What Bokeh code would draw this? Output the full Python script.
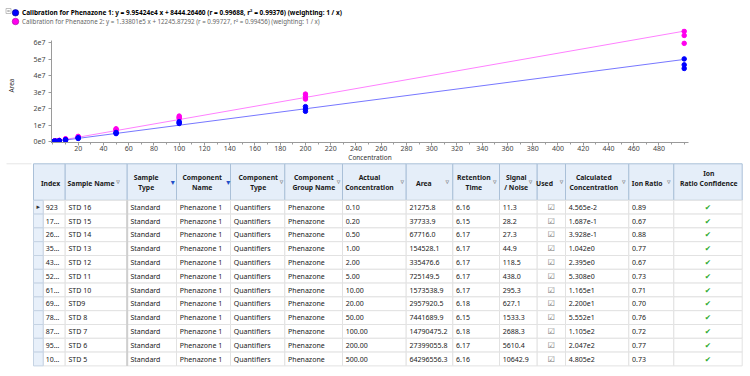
import math
from bokeh.plotting import figure
from bokeh.models import Range1d, FixedTicker, CustomJSTickFormatter, ColumnDataSource
from bokeh.embed import file_html
from bokeh.resources import INLINE
from bokeh.core.properties import value

FONT = "Noto Sans"
SYM = "DejaVu Sans"

# ---------------- calibration data ----------------
concentration = [0.1, 0.2, 0.5, 1, 2, 5, 10, 20, 50, 100, 200, 500]
# Phenazone 1 (blue), three replicates
p1_rep_a = [16000, 28000, 52000, 115000, 250000, 560000, 1200000, 2400000, 5600000, 12100000, 21200000, 50100000]
p1_rep_b = [14000, 25000, 48000, 105000, 230000, 520000, 1080000, 2150000, 5200000, 11500000, 19600000, 46500000]
p1_rep_c = [12000, 22000, 44000, 95000, 210000, 480000, 980000, 1950000, 4900000, 11000000, 18400000, 44300000]
# Phenazone 2 (magenta), three replicates
p2_rep_a = [24000, 40000, 72000, 160000, 350000, 770000, 1700000, 3200000, 7800000, 15500000, 28800000, 66800000]
p2_rep_b = [21275.8, 37733.9, 67716.0, 154528.1, 335476.6, 725149.5, 1573538.9, 2957920.5, 7441689.9, 14790475.2, 27399055.8, 64296556.3]
p2_rep_c = [19000, 34000, 63000, 145000, 320000, 690000, 1450000, 2750000, 6900000, 14100000, 25800000, 59500000]

fit1_slope, fit1_intercept = 9.95424e4, 8444.26460
fit2_slope, fit2_intercept = 1.33801e5, 12245.87292
fit_x = [0, 500]

legend_texts = [
    "Calibration for Phenazone 1: y = 9.95424e4 x + 8444.26460 (r = 0.99688, r\u00b2 = 0.99376)  (weighting: 1 / x)",
    "Calibration for Phenazone 2: y = 1.33801e5 x + 12245.87292 (r = 0.99727, r\u00b2 = 0.99456)  (weighting: 1 / x)",
]
series_colors = ["#0000ff", "#ff00ee"]
x_axis_title = "Concentration"
y_axis_title = "Area"

x_tick_values = list(range(20, 500, 20))
x_minor_values = list(range(0, 510, 10))
y_tick_values = [0, 1e7, 2e7, 3e7, 4e7, 5e7, 6e7]

# ---------------- table data ----------------
col_headers = ["Index", "Sample Name", "Sample\nType", "Component\nName", "Component\nType",
               "Component\nGroup Name", "Actual\nConcentration", "Area", "Retention\nTime",
               "Signal\n/ Noise", "Used", "Calculated\nConcentration", "Ion Ratio", "Ion\nRatio Confidence"]
col_filter = ["", "open", "filled", "filled", "open", "open", "open", "open", "open", "open", "open", "open", "open", ""]
t_index = ["923", "17\u2026", "26\u2026", "35\u2026", "43\u2026", "52\u2026", "61\u2026", "69\u2026", "78\u2026", "87\u2026", "95\u2026", "10\u2026"]
t_sample = ["STD 16", "STD 15", "STD 14", "STD 13", "STD 12", "STD 11", "STD 10", "STD9", "STD 8", "STD 7", "STD  6", "STD 5"]
t_type = ["Standard"] * 12
t_comp = ["Phenazone 1"] * 12
t_ctype = ["Quantifiers"] * 12
t_group = ["Phenazone"] * 12
t_actual = ["0.10", "0.20", "0.50", "1.00", "2.00", "5.00", "10.00", "20.00", "50.00", "100.00", "200.00", "500.00"]
t_area = ["21275.8", "37733.9", "67716.0", "154528.1", "335476.6", "725149.5", "1573538.9", "2957920.5",
          "7441689.9", "14790475.2", "27399055.8", "64296556.3"]
t_rt = ["6.16", "6.15", "6.17", "6.17", "6.17", "6.17", "6.17", "6.18", "6.15", "6.18", "6.17", "6.16"]
t_sn = ["11.3", "28.2", "27.3", "44.9", "118.5", "438.0", "295.3", "627.1", "1533.3", "2688.3", "5610.4", "10642.9"]
t_used = [True] * 12
t_calc = ["4.565e-2", "1.687e-1", "3.928e-1", "1.042e0", "2.395e0", "5.308e0", "1.165e1", "2.200e1",
          "5.552e1", "1.105e2", "2.047e2", "4.805e2"]
t_ion = ["0.89", "0.67", "0.88", "0.77", "0.67", "0.73", "0.71", "0.70", "0.76", "0.72", "0.77", "0.73"]
t_conf = [True] * 12

W = 750

# ---------------- legend strip (page y 0..27) ----------------
LH = 27
lg = figure(width=W, height=LH, output_backend="svg", toolbar_location=None, title=None,
            x_range=Range1d(0, W), y_range=Range1d(LH, 0), min_border=0,
            x_axis_location=None, y_axis_location=None)
lg.grid.visible = False
lg.outline_line_color = None
leg_y = [12.3, 21.0]
lg.scatter([15, 15], leg_y, marker="circle", size=6.5, fill_color=series_colors,
           line_color=["#000080", "#a000a0"], line_width=0.6)
lg.text([21.5], [leg_y[0]], text=[legend_texts[0]], text_font=value(FONT), text_font_size="6.5px",
        text_font_style="bold", text_color="#000000", text_baseline="middle")
lg.text([21.5], [leg_y[1]], text=[legend_texts[1]], text_font=value(FONT), text_font_size="6.2px",
        text_color="#666666", text_baseline="middle")
# collapse box
lg.quad(left=[5.5], right=[10.5], top=[8], bottom=[13], fill_color="white", line_color="#b0b0b0", line_width=0.8)
lg.segment(x0=[6.8], y0=[10.5], x1=[9.2], y1=[10.5], line_color="#555555", line_width=0.8)

# ---------------- chart (page y 27..154) ----------------
CTOP, CBOT = 27, 154
FL, FR, FT, FB = 51, 688, 28, 142          # frame edges in page pixels
X0, X1 = -1.15, 503.4
Y0, Y1 = -0.05e7, 6.85e7

p = figure(width=W, height=CBOT - CTOP, output_backend="svg", toolbar_location=None, title=None,
           x_range=Range1d(X0, X1), y_range=Range1d(Y0, Y1),
           min_border_left=FL, min_border_right=W - FR, min_border_top=FT - CTOP, min_border_bottom=CBOT - FB)
p.xgrid.visible = False
p.ygrid.visible = False
p.outline_line_color = None

for ax in (p.xaxis[0], p.yaxis[0]):
    ax.axis_line_color = "#9a9a9a"
    ax.major_tick_line_color = "#9a9a9a"
    ax.minor_tick_line_color = "#9a9a9a"
    ax.major_tick_in = 0
    ax.major_tick_out = 3
    ax.minor_tick_in = 0
    ax.minor_tick_out = 2
    ax.major_label_text_font = FONT
    ax.major_label_text_font_size = "7px"
    ax.major_label_text_color = "#444444"

p.xaxis.ticker = FixedTicker(ticks=x_tick_values, minor_ticks=x_minor_values)
p.xaxis.major_label_standoff = 0
p.yaxis.ticker = FixedTicker(ticks=y_tick_values, minor_ticks=[])
p.yaxis.formatter = CustomJSTickFormatter(code="return tick == 0 ? '0e0' : (tick/1e7).toFixed(0) + 'e7';")
p.yaxis.major_label_standoff = 3
p.yaxis.bounds = (Y0, 6.12e7)
p.yaxis.axis_label = y_axis_title
p.yaxis.axis_label_text_font = FONT
p.yaxis.axis_label_text_font_size = "6.5px"
p.yaxis.axis_label_text_font_style = "normal"
p.yaxis.axis_label_text_color = "#333333"
p.yaxis.axis_label_standoff = 15

fit1_y = [fit1_slope * v + fit1_intercept for v in fit_x]
fit2_y = [fit2_slope * v + fit2_intercept for v in fit_x]
p.line(fit_x, fit2_y, line_color="#ff80ff", line_width=1)
p.line(fit_x, fit1_y, line_color="#7777ff", line_width=1)

p.scatter(concentration * 3, p2_rep_a + p2_rep_b + p2_rep_c, marker="circle", size=4.5,
          fill_color=series_colors[1], line_color=series_colors[1])
p.scatter(concentration * 3, p1_rep_a + p1_rep_b + p1_rep_c, marker="circle", size=4.5,
          fill_color=series_colors[0], line_color=series_colors[0])

# ---------------- table (page y 154..376) ----------------
TTOP = CBOT
TH = 376 - TTOP
t = figure(width=W, height=TH, output_backend="svg", toolbar_location=None, title=None,
           x_range=Range1d(0, W), y_range=Range1d(TH, 0), min_border=0,
           x_axis_location=None, y_axis_location=None)
t.grid.visible = False
t.outline_line_color = None

# x-axis title of the chart sits just above the table
t.text([(FL + FR) / 2], [157 - TTOP], text=[x_axis_title], text_font=value(FONT), text_font_size="6.5px",
       text_color="#333333", text_align="center", text_baseline="middle")

col_widths = [31.7, 62, 49.3, 54, 54.3, 57.7, 63.7, 46.6, 46.7, 37.7, 28.3, 63.3, 45, 68.4]
edges = [33.0]
for w in col_widths:
    edges.append(edges[-1] + w)
SEL_W = 9.7
HEAD_TOP, HEAD_BOT, ROW_H = 163.3 - TTOP, 199.8 - TTOP, 13.8
n_rows = len(t_sample)
n_cols = len(col_headers)

# splitter line left of the table
t.segment(x0=[6], y0=[HEAD_TOP], x1=[31], y1=[HEAD_TOP], line_color="#e6e6e6", line_width=1)

# header cells
t.quad(left=edges[:-1], right=edges[1:], top=[HEAD_TOP] * n_cols, bottom=[HEAD_BOT] * n_cols,
       fill_color="#e5eef9", line_color="#aac0d8", line_width=1)

# body cells
L, R, T, B = [], [], [], []
for i in range(n_rows):
    top = HEAD_BOT + i * ROW_H
    for c in range(n_cols):
        left = edges[c] + (SEL_W if c == 0 else 0)
        L.append(left); R.append(edges[c + 1]); T.append(top); B.append(top + ROW_H)
t.quad(left=L, right=R, top=T, bottom=B, fill_color="white", line_color="#e2e2e2", line_width=1)
# row selector cells
sel_top = [HEAD_BOT + i * ROW_H for i in range(n_rows)]
t.quad(left=[edges[0]] * n_rows, right=[edges[0] + SEL_W] * n_rows, top=sel_top,
       bottom=[v + ROW_H for v in sel_top], fill_color="#e8f0fa", line_color="#c5d3e3", line_width=1)
# heavier separator after Sample Name
t.segment(x0=[edges[2]], y0=[HEAD_BOT], x1=[edges[2]], y1=[HEAD_BOT + n_rows * ROW_H],
          line_color="#cfcfcf", line_width=2)

# header texts
header_cx = [50, 90.5, 145.7, 201.7, 257.7, 313.3, 369, 423.3, 473.3, 515.7, 544, 593.3, 646.7, 708.3]
hx, hy, ht = [], [], []
for c, h in enumerate(col_headers):
    lines = h.split("\n")
    if len(lines) == 1:
        ys = [182.7]
    elif c == n_cols - 1:
        ys = [173.3, 182.7]
    else:
        ys = [176.7, 187.0]
    for ln, yy in zip(lines, ys):
        hx.append(header_cx[c]); hy.append(yy - TTOP); ht.append(ln)
t.text(x="x", y="y", text="text", source=ColumnDataSource(dict(x=hx, y=hy, text=ht)),
       text_font=value(FONT), text_font_size="6.8px", text_font_style="bold", text_color="#1a1a1a",
       text_align="center", text_baseline="middle")

# filter icons
icon_px = [None, 117.5, 172.3, 227.7, 281, 338, 401.7, 446.7, 494.3, 530, 561, 623.3, 668.3, None]
ox, fx = [], []
for c, kind in enumerate(col_filter):
    if kind == "open":
        ox.append(icon_px[c])
    elif kind == "filled":
        fx.append(icon_px[c])
ICON_Y = 181.5 - TTOP
t.text(x=ox, y=[ICON_Y] * len(ox), text=["\u25bf"] * len(ox), text_font=value(SYM), text_font_size="7px",
       text_color="#555555", text_align="center", text_baseline="middle")
t.text(x=fx, y=[ICON_Y] * len(fx), text=["\u25be"] * len(fx), text_font=value(SYM), text_font_size="8px",
       text_color="#1f4fc8", text_align="center", text_baseline="middle")

# body texts
row_y = [HEAD_BOT + ROW_H / 2 + i * ROW_H for i in range(n_rows)]
text_cols = [t_index, t_sample, t_type, t_comp, t_ctype, t_group, t_actual, t_area, t_rt, t_sn,
             None, t_calc, t_ion, None]
bx, by, bt = [], [], []
for c, colvals in enumerate(text_cols):
    if colvals is None:
        continue
    x0 = edges[c] + SEL_W + 2.6 if c == 0 else edges[c] + 3.3
    for i, v in enumerate(colvals):
        bx.append(x0); by.append(row_y[i]); bt.append(v)
t.text(x="x", y="y", text="text", source=ColumnDataSource(dict(x=bx, y=by, text=bt)),
       text_font=value(FONT), text_font_size="7px", text_color="#222222",
       text_align="left", text_baseline="middle")

# checkboxes and confidence marks
used_y = [row_y[i] for i, u in enumerate(t_used) if u]
t.text(x=[(edges[10] + edges[11]) / 2] * len(used_y), y=used_y, text=["\u2611"] * len(used_y),
       text_font=value(SYM), text_font_size="8px", text_color="#707070",
       text_align="center", text_baseline="middle")
conf_y = [row_y[i] for i, u in enumerate(t_conf) if u]
t.text(x=[(edges[13] + edges[14]) / 2] * len(conf_y), y=conf_y, text=["\u2714"] * len(conf_y),
       text_font=value(SYM), text_font_size="7.5px", text_color="#2eaa2e",
       text_align="center", text_baseline="middle")
# current-row marker
t.text(x=[edges[0] + SEL_W / 2], y=[row_y[0]], text=["\u25b8"], text_font=value(SYM),
       text_font_size="7px", text_color="#333333", text_align="center", text_baseline="middle")

open("out.html", "w").write(file_html([lg, p, t], INLINE))
